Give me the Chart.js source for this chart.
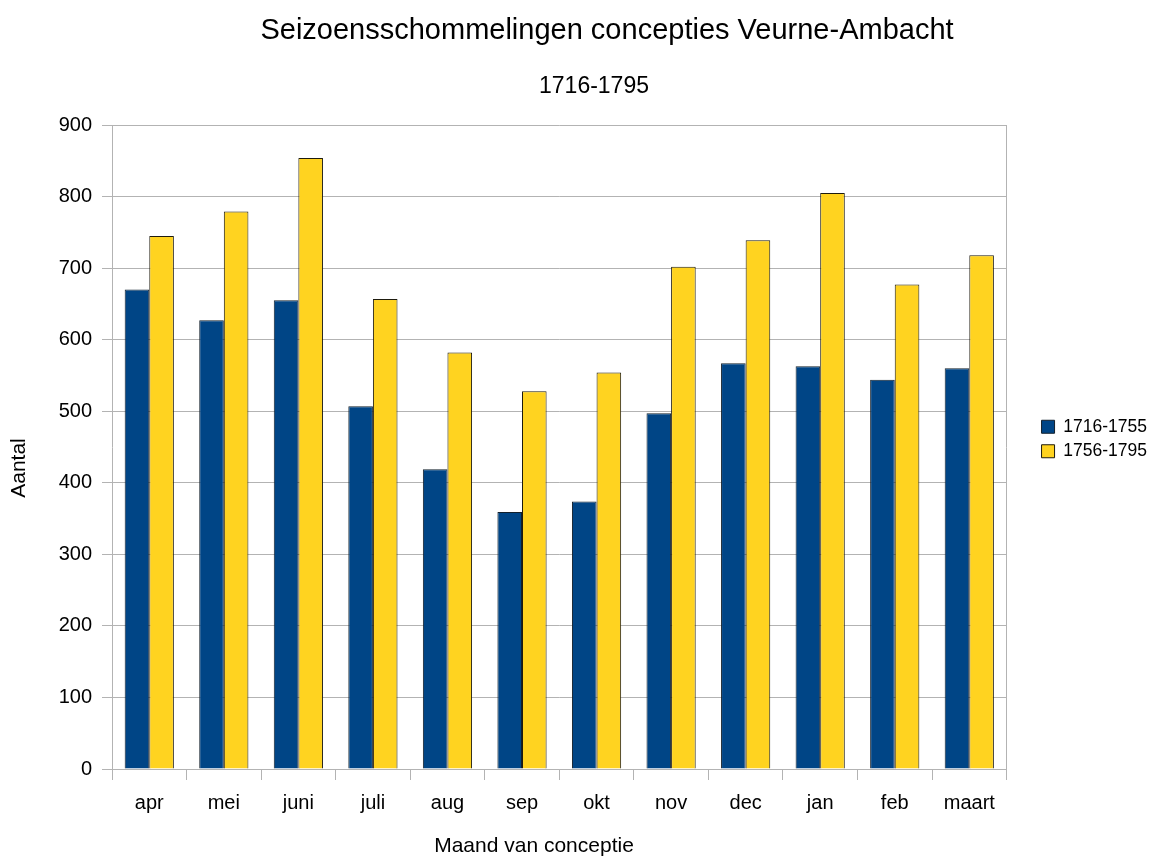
<!DOCTYPE html>
<html>
<head>
<meta charset="utf-8">
<script src="https://cdn.jsdelivr.net/npm/chart.js@4.4.1/dist/chart.umd.min.js"></script>
<style>
  html, body { margin: 0; padding: 0; background: #fff; }
  #wrap { width: 1157px; height: 859px; }
</style>
</head>
<body>
<div id="wrap"><canvas id="seasonChart" width="1157" height="859"></canvas></div>
<script>
const months = ['apr', 'mei', 'juni', 'juli', 'aug', 'sep', 'okt', 'nov', 'dec', 'jan', 'feb', 'maart']
const early = [670, 627, 655, 507, 419, 359, 374, 497, 567, 563, 544, 560]
const late = [745, 779, 854, 657, 582, 528, 554, 702, 739, 805, 677, 718]
const seriesNames = ['1716-1755', '1756-1795']
const yMin = 0
const yMax = 900
const yStep = 100

const titleText = 'Seizoensschommelingen concepties Veurne-Ambacht'
const subtitleText = '1716-1795'
const xTitleText = 'Maand van conceptie'
const yTitleText = 'Aantal'

const FONT = "'Liberation Sans', Arial, sans-serif"
const GRID = '#b3b3b3'

Chart.defaults.font.family = FONT
Chart.defaults.color = '#000'

// titles drawn by hand so they can sit where the original puts them
const captions = {
   id: 'captions',
   afterDraw: (chart) => {
      const c = chart.ctx
      c.save()
      c.fillStyle = '#000'
      c.textAlign = 'center'
      c.textBaseline = 'alphabetic'
      c.font = '29px ' + FONT
      c.fillText(titleText, 607, 39)
      c.font = '23px ' + FONT
      c.fillText(subtitleText, 594, 93)
      c.font = '21px ' + FONT
      c.fillText(xTitleText, 534, 852)
      c.translate(25, 468)
      c.rotate(-Math.PI / 2)
      c.fillText(yTitleText, 0, 0)
      c.restore()
   }
}

const ctx = document.getElementById('seasonChart')

const barChart = new Chart(ctx, {
   type: 'bar',
   data: {
      labels: months,
      datasets: [{
         label: seriesNames[0],
         data: early,
         backgroundColor: '#004586',
         borderColor: '#13202c',
         borderWidth: 1,
         categoryPercentage: 0.66,
         barPercentage: 1
      }, {
         label: seriesNames[1],
         data: late,
         backgroundColor: '#ffd320',
         borderColor: '#1e1b0e',
         borderWidth: 1,
         categoryPercentage: 0.66,
         barPercentage: 1
      }]
   },
   options: {
      responsive: false,
      animation: false,
      layout: {
         padding: { top: 125, right: 0, bottom: 0, left: 0 }
      },
      plugins: {
         title: { display: false },
         tooltip: { enabled: false },
         legend: {
            position: 'right',
            fullSize: false,
            // empty title with negative padding lifts the items a bit
            title: { display: true, text: '', padding: { top: -30.4, bottom: 0 } },
            labels: {
               boxWidth: 13,
               boxHeight: 13,
               padding: 7,
               color: '#000',
               font: { size: 17.5 }
            }
         }
      },
      scales: {
         x: {
            grid: { offset: true, drawOnChartArea: false, color: GRID, tickLength: 11 },
            border: { color: GRID },
            ticks: { color: '#000', font: { size: 20 }, padding: 11 },
            afterFit: (scale) => { scale.height = 90 }
         },
         y: {
            min: yMin,
            max: yMax,
            ticks: { stepSize: yStep, color: '#000', font: { size: 20 }, padding: 10 },
            grid: { color: GRID, tickLength: 10 },
            border: { color: GRID },
            afterFit: (scale) => { scale.width = 112 }
         },
         y2: {
            position: 'right',
            grid: { drawOnChartArea: false, drawTicks: false },
            ticks: { display: false },
            border: { color: GRID },
            afterFit: (scale) => { scale.width = 28 }
         }
      }
   },
   plugins: [captions]
})
</script>
</body>
</html>
